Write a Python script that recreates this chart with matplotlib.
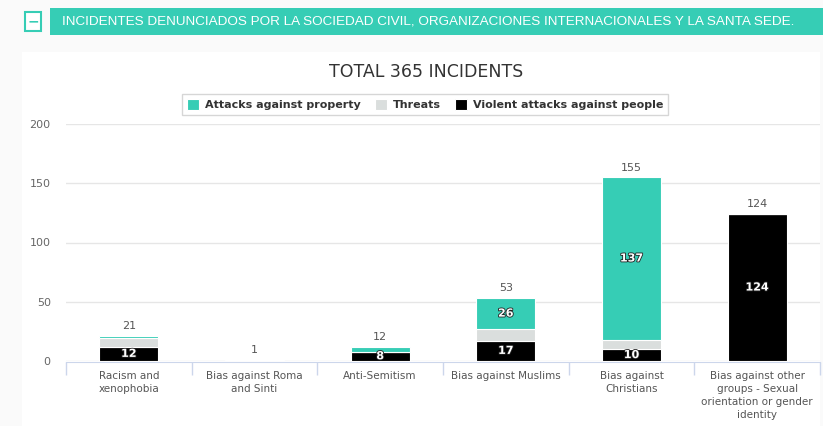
import matplotlib.pyplot as plt
import matplotlib.patheffects as pe
from matplotlib.patches import Rectangle
import numpy as np

# data
categories = ['Racism and\nxenophobia', 'Bias against Roma\nand Sinti', 'Anti-Semitism',
              'Bias against Muslims', 'Bias against\nChristians',
              'Bias against other\ngroups - Sexual\norientation or gender\nidentity']
violent = [12, 0, 8, 17, 10, 124]
threats = [7, 1, 0, 10, 8, 0]
prop = [2, 0, 4, 26, 137, 0]
series_names = ['Attacks against property', 'Threats', 'Violent attacks against people']
yticks = [0, 50, 100, 150, 200]

teal = '#36cdb5'
grey = '#dadedd'
black = '#000000'

W, H = 823, 426
fig = plt.figure(figsize=(W / 100, H / 100), dpi=100)
fig.patch.set_facecolor('#fafafa')

# white panel behind chart
fig.patches.append(Rectangle((22 / W, 0), 798 / W, 1 - 52 / H, transform=fig.transFigure,
                             facecolor='white', edgecolor='none', zorder=-5))

# banner
fig.patches.append(Rectangle((50 / W, 1 - 35 / H), 773 / W, 27 / H, transform=fig.transFigure,
                             facecolor=teal, edgecolor='none', zorder=-4))
fig.patches.append(Rectangle((25 / W, 1 - 31 / H), 16 / W, 19 / H, transform=fig.transFigure,
                             facecolor='white', edgecolor=teal, linewidth=1.5, zorder=-4))
fig.text(33 / W, 1 - 21.5 / H, '\u2212', color=teal, fontsize=10, fontweight='bold',
         ha='center', va='center')
fig.text(62 / W, 1 - 21.5 / H,
         'INCIDENTES DENUNCIADOS POR LA SOCIEDAD CIVIL, ORGANIZACIONES INTERNACIONALES Y LA SANTA SEDE.',
         color='white', fontsize=9.7, ha='left', va='center', family='Liberation Sans')

ax = fig.add_axes([66 / W, 1 - 361 / H, 754 / W, 237 / H])
ax.set_zorder(2)
ax.set_facecolor('none')
x = np.arange(len(categories))
v = np.array(violent)
t = np.array(threats)
p = np.array(prop)

bw = 0.47
b1 = ax.bar(x, v, bw, color=black, edgecolor='white', linewidth=0.8, zorder=3)
b2 = ax.bar(x, t, bw, bottom=v, color=grey, edgecolor='white', linewidth=0.8, zorder=3)
b3 = ax.bar(x, p, bw, bottom=v + t, color=teal, edgecolor='white', linewidth=0.8, zorder=3)

outline = [pe.withStroke(linewidth=1.2, foreground='#222222')]
for i in range(len(categories)):
    if v[i] >= 8:
        ax.text(x[i], v[i] / 2, str(v[i]), color='white', fontsize=8, fontweight='bold',
                ha='center', va='center', zorder=5, path_effects=outline)
    if p[i] >= 8:
        ax.text(x[i], v[i] + t[i] + p[i] / 2, str(p[i]), color='white', fontsize=8,
                fontweight='bold', ha='center', va='center', zorder=5, path_effects=outline)
    total = v[i] + t[i] + p[i]
    ax.text(x[i], total + 4, str(total), color='#555555', fontsize=8,
            ha='center', va='bottom', zorder=5)

ax.set_xlim(-0.5, len(categories) - 0.5)
ax.set_ylim(0, 200)
ax.set_yticks(yticks)
ax.yaxis.grid(True, color='#e6e6e6', linewidth=1, zorder=0)
ax.tick_params(axis='y', length=0, colors='#666666', labelsize=8, pad=11)
for s in ['top', 'right', 'left']:
    ax.spines[s].set_visible(False)
ax.spines['bottom'].set_color('#ccd6eb')
ax.spines['bottom'].set_position(('outward', 1))

ax.set_xticks(x)
ax.set_xticklabels(categories, color='#555555', fontsize=7.5, linespacing=1.4)
ax.tick_params(axis='x', length=0, pad=6)
ax.set_xticks(np.arange(len(categories) + 1) - 0.5, minor=True)
ax.tick_params(axis='x', which='minor', length=9, color='#ccd6eb', width=1)

fig.text(426 / W, 1 - 72 / H, 'TOTAL 365 INCIDENTS', color='#333333', fontsize=12.5,
         ha='center', va='center')

handles = [b3, b2, b1]
leg = fig.legend(handles, series_names, loc='center', bbox_to_anchor=(425 / W, 1 - 104.5 / H),
                 ncol=3, frameon=True, fontsize=8, handlelength=1.1, handleheight=1.1,
                 columnspacing=1.3, handletextpad=0.5, borderpad=0.45, fancybox=False)
leg.get_frame().set_edgecolor('#cccccc')
leg.get_frame().set_linewidth(1)
for txt in leg.get_texts():
    txt.set_color('#333333')
    txt.set_fontweight('bold')

fig.savefig('out.png', dpi=100, facecolor=fig.get_facecolor())
